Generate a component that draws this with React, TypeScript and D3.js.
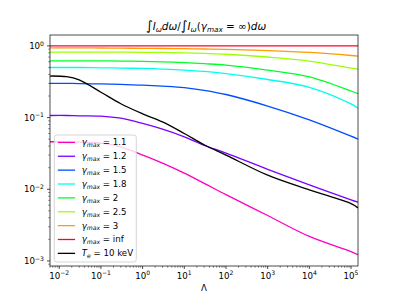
import React from "react";
import * as d3 from "d3";

// Λ grid shared by every curve
const lambda = [0.006, 0.015, 0.03, 0.1, 0.3, 1, 3, 10, 30, 100, 1000, 1e4, 1e5, 1.47e5];

// ratio for each gamma_max
const g11 = [0.046, 0.046, 0.0455, 0.044, 0.039, 0.030, 0.0232, 0.0168, 0.0121, 0.0084, 0.0043, 0.0022, 0.00135, 0.00122];
const g12 = [0.107, 0.107, 0.106, 0.105, 0.098, 0.083, 0.069, 0.054, 0.041, 0.0319, 0.019, 0.0115, 0.0071, 0.0066];
const g15 = [0.3, 0.3, 0.298, 0.295, 0.29, 0.284, 0.275, 0.262, 0.24, 0.21, 0.145, 0.093, 0.055, 0.05];
const g18 = [0.5, 0.5, 0.5, 0.495, 0.49, 0.485, 0.475, 0.46, 0.44, 0.41, 0.34, 0.265, 0.155, 0.135];
const g20 = [0.62, 0.62, 0.62, 0.62, 0.615, 0.61, 0.6, 0.585, 0.565, 0.54, 0.46, 0.37, 0.235, 0.215];
const g25 = [0.82, 0.82, 0.82, 0.82, 0.818, 0.815, 0.81, 0.8, 0.785, 0.765, 0.7, 0.615, 0.49, 0.475];
const g30 = [0.94, 0.94, 0.94, 0.935, 0.93, 0.925, 0.92, 0.915, 0.905, 0.895, 0.86, 0.81, 0.735, 0.72];
const gInf = [1, 1, 1, 1, 1, 1, 1, 1, 1, 1, 1, 1, 1, 1];
const te10 = [0.38, 0.372, 0.335, 0.226, 0.156, 0.113, 0.087, 0.06, 0.0418, 0.03, 0.0157, 0.0098, 0.0063, 0.0055];

const gammaLabels = ["1.1", "1.2", "1.5", "1.8", "2", "2.5", "3", "inf"];
const gammaColors = ["#ff00bf", "#7900ff", "#004dff", "#00ffeb", "#00ff27", "#9eff00", "#ff9c00", "#ff0029"];

const xMajor = [1e-2, 1e-1, 1e0, 1e1, 1e2, 1e3, 1e4, 1e5];
const yMajor = [1e-3, 1e-2, 1e-1, 1e0];

const font = "DejaVu Sans";
const L = 50, R = 358, T = 35, B = 266;

function minorTicks(lo: number, hi: number) {
  const out: number[] = [];
  for (let k = -4; k <= 6; k++)
    for (let m = 2; m <= 9; m++) {
      const v = m * Math.pow(10, k);
      if (v >= lo && v <= hi) out.push(v);
    }
  return out;
}

function Pow10({ e }: { e: number }) {
  const s = e < 0 ? "\u2212" + Math.abs(e) : String(e);
  return (
    <>
      <tspan>10</tspan>
      <tspan fontSize={6.1} dy={-3.6}>{s}</tspan>
    </>
  );
}

export default function App() {
  const x = d3.scaleLog().domain([6e-3, 1.47e5]).range([L, R]);
  const y = d3.scaleLog().domain([8.5e-4, 1.42]).range([B, T]);

  const line = d3
    .line<number>()
    .x((_, i) => x(lambda[i]))
    .y((d) => y(d))
    .curve(d3.curveCatmullRom.alpha(0.5));

  const gammaSeries = [g11, g12, g15, g18, g20, g25, g30, gInf];
  const series = gammaSeries
    .map((vals, i) => ({ vals, color: gammaColors[i] }))
    .concat([{ vals: te10, color: "#000000" }]);

  const xMinor = minorTicks(6e-3, 1.47e5);
  const yMinor = minorTicks(8.5e-4, 1.42);

  const legX = 54.3, legY = 135, legW = 82, legH = 127;
  const rowY = (i: number) => 142.4 + i * 13.87;

  return (
    <svg width={399} height={299} style={{ position: "absolute", left: 0, top: 0, background: "#fff" }}>
      <defs>
        <clipPath id="plot">
          <rect x={L} y={T} width={R - L} height={B - T} />
        </clipPath>
      </defs>

      <g clipPath="url(#plot)">
        {series.map((s, i) => (
          <path key={i} d={line(s.vals) || ""} fill="none" stroke={s.color} strokeWidth={1.3} />
        ))}
      </g>

      {/* frame */}
      <rect x={L} y={T} width={R - L} height={B - T} fill="none" stroke="#000" strokeWidth={0.7} />

      {/* x ticks */}
      {xMinor.map((v) => (
        <line key={"xm" + v} x1={x(v)} x2={x(v)} y1={B} y2={B + 1.7} stroke="#000" strokeWidth={0.5} />
      ))}
      {xMajor.map((v) => (
        <g key={"x" + v}>
          <line x1={x(v)} x2={x(v)} y1={B} y2={B + 3} stroke="#000" strokeWidth={0.7} />
          <text x={x(v)} y={278.5} textAnchor="middle" fontFamily={font} fontSize={8.65}>
            <Pow10 e={Math.round(Math.log10(v))} />
          </text>
        </g>
      ))}

      {/* y ticks */}
      {yMinor.map((v) => (
        <line key={"ym" + v} x1={L - 1.7} x2={L} y1={y(v)} y2={y(v)} stroke="#000" strokeWidth={0.5} />
      ))}
      {yMajor.map((v) => (
        <g key={"y" + v}>
          <line x1={L - 3} x2={L} y1={y(v)} y2={y(v)} stroke="#000" strokeWidth={0.7} />
          <text x={44} y={y(v) + 3.2} textAnchor="end" fontFamily={font} fontSize={8.65}>
            <Pow10 e={Math.round(Math.log10(v))} />
          </text>
        </g>
      ))}

      {/* axis label */}
      <text x={(L + R) / 2} y={291} textAnchor="middle" fontFamily={font} fontSize={8.65}>
        Λ
      </text>

      {/* title */}
      <text x={(L + R) / 2 + 2} y={30} textAnchor="middle" fontFamily={font} fontSize={10.4}>
        <tspan fontSize={13}>∫</tspan>
        <tspan fontStyle="italic">I</tspan>
        <tspan fontStyle="italic" fontSize={7.3} dy={2}>ω</tspan>
        <tspan fontStyle="italic" dy={-2}>dω</tspan>
        <tspan>/</tspan>
        <tspan fontSize={13}>∫</tspan>
        <tspan fontStyle="italic">I</tspan>
        <tspan fontStyle="italic" fontSize={7.3} dy={2}>ω</tspan>
        <tspan dy={-2}>(</tspan>
        <tspan fontStyle="italic">γ</tspan>
        <tspan fontStyle="italic" fontSize={7.3} dy={2}>max</tspan>
        <tspan dy={-2}> = ∞)</tspan>
        <tspan fontStyle="italic">dω</tspan>
      </text>

      {/* legend */}
      <rect x={legX} y={legY} width={legW} height={legH} rx={2.5} fill="#fff" fillOpacity={0.8} stroke="#cccccc" strokeWidth={0.8} />
      {series.map((s, i) => (
        <g key={"leg" + i}>
          <line x1={57.8} x2={75.1} y1={rowY(i)} y2={rowY(i)} stroke={s.color} strokeWidth={1.3} />
          <text x={81.7} y={rowY(i) + 3} fontFamily={font} fontSize={8.65}>
            {i < gammaLabels.length ? (
              <>
                <tspan fontStyle="italic">γ</tspan>
                <tspan fontStyle="italic" fontSize={6.1} dy={1.8}>max</tspan>
                <tspan dy={-1.8}>{" = " + gammaLabels[i]}</tspan>
              </>
            ) : (
              <>
                <tspan fontStyle="italic">T</tspan>
                <tspan fontStyle="italic" fontSize={6.1} dy={1.8}>e</tspan>
                <tspan dy={-1.8}>{" = 10 keV"}</tspan>
              </>
            )}
          </text>
        </g>
      ))}
    </svg>
  );
}
